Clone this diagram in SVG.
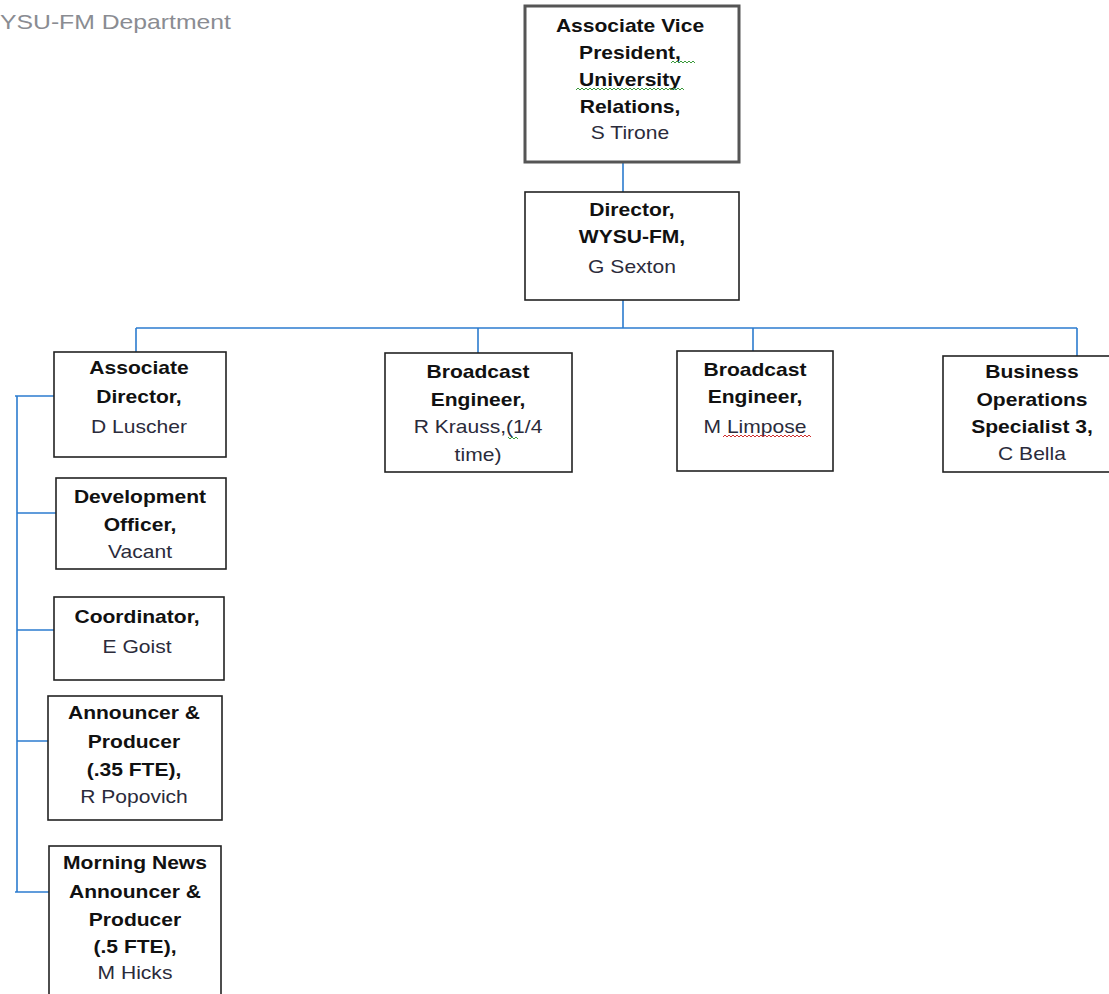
<svg xmlns="http://www.w3.org/2000/svg" width="1109" height="994" viewBox="0 0 1109 994">
  <style>
    .box { fill: #ffffff; stroke: #222222; stroke-width: 1.6; }
    .box-top { fill: #ffffff; stroke: #555555; stroke-width: 3; }
    .wire { fill: none; stroke: #2b7bcf; stroke-width: 1.6; }
    .t { font-family: "Liberation Sans", Arial, sans-serif; font-size: 18px; text-anchor: middle; }
    .b { font-weight: bold; fill: #111111; }
    .n { fill: #2b2b3b; }
    .hdr { font-family: "Liberation Sans", Arial, sans-serif; font-size: 21px; fill: #8a8c92; }
    .sq-g { fill: none; stroke: #3a9a3a; stroke-width: 1; }
    .sq-r { fill: none; stroke: #d03030; stroke-width: 1; }
  </style>

  <rect width="1109" height="994" fill="#ffffff"/>

  <!-- page heading -->
  <text class="hdr" x="0" y="29" textLength="231" lengthAdjust="spacingAndGlyphs">YSU-FM Department</text>

  <!-- reporting lines -->
  <g id="connectors">
    <line class="wire" x1="623" y1="162" x2="623" y2="192"/>
    <line class="wire" x1="623" y1="300" x2="623" y2="328"/>
    <line class="wire" x1="136" y1="328" x2="1077" y2="328"/>
    <line class="wire" x1="136" y1="328" x2="136" y2="352"/>
    <line class="wire" x1="478" y1="328" x2="478" y2="353"/>
    <line class="wire" x1="753" y1="328" x2="753" y2="351"/>
    <line class="wire" x1="1077" y1="328" x2="1077" y2="356"/>
    <line class="wire" x1="17" y1="396" x2="17" y2="892"/>
    <line class="wire" x1="15" y1="396" x2="54" y2="396"/>
    <line class="wire" x1="17" y1="513" x2="56" y2="513"/>
    <line class="wire" x1="17" y1="630" x2="54" y2="630"/>
    <line class="wire" x1="17" y1="741" x2="51" y2="741"/>
    <line class="wire" x1="15" y1="892" x2="53" y2="892"/>
  </g>

  <g id="node-avp">
    <rect class="box-top" x="525" y="6" width="214" height="156"/>
    <g class="t" transform="translate(630 0) scale(1.17 1)">
      <text class="b" x="0" y="32">Associate Vice</text>
      <text class="b" x="0" y="59">President,</text>
      <text class="b" x="0" y="86">University</text>
      <text class="b" x="0" y="113">Relations,</text>
      <text class="n" x="0" y="139">S Tirone</text>
    </g>
    <path class="sq-g" d="M671 63 l2 -2 l2 2 l2 -2 l2 2 l2 -2 l2 2 l2 -2 l2 2 l2 -2 l2 2 l2 -2 l2 2"/>
    <path class="sq-g" d="M576 90 l2 -2 l2 2 l2 -2 l2 2 l2 -2 l2 2 l2 -2 l2 2 l2 -2 l2 2 l2 -2 l2 2 l2 -2 l2 2 l2 -2 l2 2 l2 -2 l2 2 l2 -2 l2 2 l2 -2 l2 2 l2 -2 l2 2 l2 -2 l2 2 l2 -2 l2 2 l2 -2 l2 2 l2 -2 l2 2 l2 -2 l2 2 l2 -2 l2 2 l2 -2 l2 2 l2 -2 l2 2 l2 -2 l2 2 l2 -2 l2 2 l2 -2 l2 2 l2 -2 l2 2 l2 -2 l2 2 l2 -2 l2 2 l2 -2 l2 2"/>
  </g>

  <g id="node-director">
    <rect class="box" x="525" y="192" width="214" height="108"/>
    <g class="t" transform="translate(632 0) scale(1.17 1)">
      <text class="b" x="0" y="216">Director,</text>
      <text class="b" x="0" y="243">WYSU-FM,</text>
      <text class="n" x="0" y="273">G Sexton</text>
    </g>
  </g>

  <g id="node-assoc-director">
    <rect class="box" x="54" y="352" width="172" height="105"/>
    <g class="t" transform="translate(139 0) scale(1.17 1)">
      <text class="b" x="0" y="374">Associate</text>
      <text class="b" x="0" y="403">Director,</text>
      <text class="n" x="0" y="433">D Luscher</text>
    </g>
  </g>

  <g id="node-development">
    <rect class="box" x="56" y="478" width="170" height="91"/>
    <g class="t" transform="translate(140 0) scale(1.17 1)">
      <text class="b" x="0" y="503">Development</text>
      <text class="b" x="0" y="531">Officer,</text>
      <text class="n" x="0" y="558">Vacant</text>
    </g>
  </g>

  <g id="node-coordinator">
    <rect class="box" x="54" y="597" width="170" height="83"/>
    <g class="t" transform="translate(137 0) scale(1.17 1)">
      <text class="b" x="0" y="623">Coordinator,</text>
      <text class="n" x="0" y="653">E Goist</text>
    </g>
  </g>

  <g id="node-announcer">
    <rect class="box" x="48" y="696" width="174" height="124"/>
    <g class="t" transform="translate(134 0) scale(1.17 1)">
      <text class="b" x="0" y="719">Announcer &amp;</text>
      <text class="b" x="0" y="748">Producer</text>
      <text class="b" x="0" y="776">(.35 FTE),</text>
      <text class="n" x="0" y="803">R Popovich</text>
    </g>
  </g>

  <g id="node-morning-news">
    <rect class="box" x="49" y="846" width="172" height="160"/>
    <g class="t" transform="translate(135 0) scale(1.17 1)">
      <text class="b" x="0" y="869">Morning News</text>
      <text class="b" x="0" y="898">Announcer &amp;</text>
      <text class="b" x="0" y="926">Producer</text>
      <text class="b" x="0" y="953">(.5 FTE),</text>
      <text class="n" x="0" y="979">M Hicks</text>
    </g>
  </g>

  <g id="node-engineer-krauss">
    <rect class="box" x="385" y="353" width="187" height="119"/>
    <g class="t" transform="translate(478 0) scale(1.17 1)">
      <text class="b" x="0" y="378">Broadcast</text>
      <text class="b" x="0" y="406">Engineer,</text>
      <text class="n" x="0" y="433">R Krauss,(1/4</text>
      <text class="n" x="0" y="461">time)</text>
    </g>
    <path class="sq-g" d="M508 437 l2 2 l2 -2 l2 2 l2 -2 l2 2"/>
  </g>

  <g id="node-engineer-limpose">
    <rect class="box" x="677" y="351" width="156" height="120"/>
    <g class="t" transform="translate(755 0) scale(1.17 1)">
      <text class="b" x="0" y="376">Broadcast</text>
      <text class="b" x="0" y="403">Engineer,</text>
      <text class="n" x="0" y="433">M Limpose</text>
    </g>
    <path class="sq-r" d="M723 437 l2 -2 l2 2 l2 -2 l2 2 l2 -2 l2 2 l2 -2 l2 2 l2 -2 l2 2 l2 -2 l2 2 l2 -2 l2 2 l2 -2 l2 2 l2 -2 l2 2 l2 -2 l2 2 l2 -2 l2 2 l2 -2 l2 2 l2 -2 l2 2 l2 -2 l2 2 l2 -2 l2 2 l2 -2 l2 2 l2 -2 l2 2 l2 -2 l2 2 l2 -2 l2 2 l2 -2 l2 2 l2 -2 l2 2 l2 -2 l2 2"/>
  </g>

  <g id="node-business-ops">
    <rect class="box" x="943" y="356" width="180" height="116"/>
    <g class="t" transform="translate(1032 0) scale(1.17 1)">
      <text class="b" x="0" y="378">Business</text>
      <text class="b" x="0" y="406">Operations</text>
      <text class="b" x="0" y="433">Specialist 3,</text>
      <text class="n" x="0" y="460">C Bella</text>
    </g>
  </g>
</svg>
